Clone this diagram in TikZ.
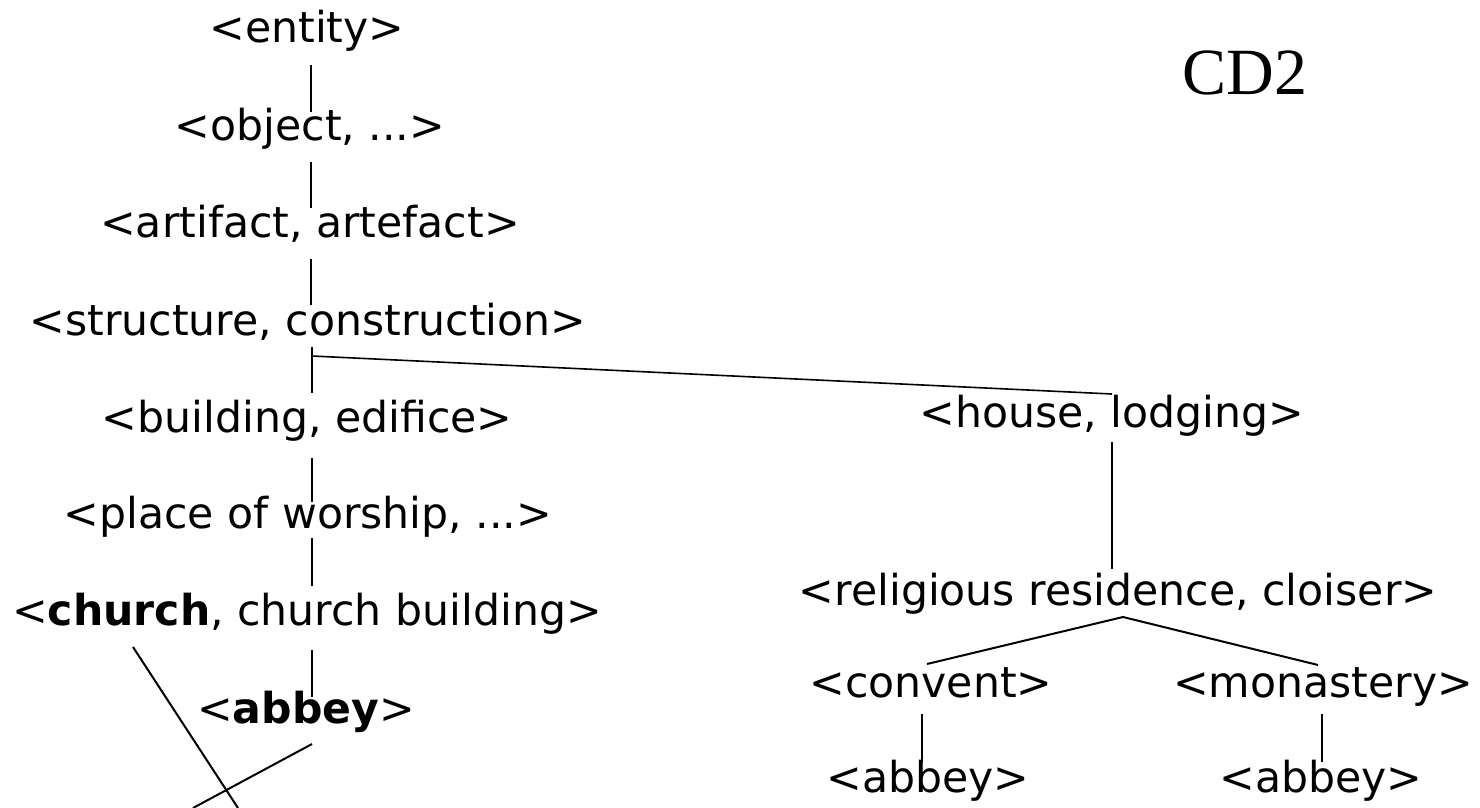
\documentclass[tikz,border=0pt]{standalone}
\usepackage{fontspec}
\setmainfont{DejaVu Sans}
\newfontfamily\titlefont{Liberation Serif}
\usetikzlibrary{calc}
\begin{document}
\begin{tikzpicture}[x=1pt,y=-1pt,
  term/.style={anchor=base,inner sep=0pt,font=\fontsize{42.6}{50}\selectfont},
  link/.style={line width=2pt,line cap=butt}]
\useasboundingbox (0,0) rectangle (1480,808);

% left chain of hypernyms
\node[term] (entity)    at (307,43)  {<entity>};
\node[term] (object)    at (310,140) {<object, ...>};
\node[term] (artifact)  at (310,237) {<artifact, artefact>};
\node[term] (structure) at (308,335) {<structure, construction>};
\node[term] (building)  at (307,432) {<building, edifice>};
\node[term] (worship)   at (308,528) {<place of worship, ...>};
\node[term] (church)    at (307,625) {<\textbf{church}, church building>};
\node[term] (abbeyA)    at (306,723) {<\textbf{abbey}>};

% right branch
\node[term] (house)     at (1112,427) {<house, lodging>};
\node[term] (religious) at (1118,605) {<religious residence, cloiser>};
\node[term] (convent)   at (931,697)  {<convent>};
\node[term] (monastery) at (1323,697) {<monastery>};
\node[term] (abbeyB)    at (928,792)  {<abbey>};
\node[term] (abbeyC)    at (1321,792) {<abbey>};

% title
\node[anchor=base,inner sep=0pt,font=\titlefont\fontsize{66}{70}\selectfont] (title) at (1245,95) {CD2};

% vertical links on the left
\draw[link] ($(entity.base)+(4,22)$)    -- ($(object.base)+(1,-28)$);
\draw[link] ($(object.base)+(1,22)$)    -- ($(artifact.base)+(1,-29)$);
\draw[link] ($(artifact.base)+(1,22)$)  -- ($(structure.base)+(3,-30)$);
\draw[link] ($(structure.base)+(4,12)$) -- ($(building.base)+(5,-39)$);
\draw[link] ($(building.base)+(5,26)$)  -- ($(worship.base)+(4,-26)$);
\draw[link] ($(worship.base)+(4,10)$)   -- ($(church.base)+(5,-39)$);
\draw[link] ($(church.base)+(5,25)$)    -- ($(abbeyA.base)+(6,-26)$);

% link across to the right branch
\draw[link,line width=1.6pt] ($(structure.base)+(4,21)$) -- ($(house.base)+(0,-33)$);
\draw[link] ($(house.base)+(0,15)$) -- ($(religious.base)+(-6,-36)$);

% fork below the religious residence
\coordinate (fork) at ($(religious.base)+(5,12)$);
\draw[link] ($(convent.base)+(-4,-33)$) -- (fork) -- ($(monastery.base)+(-5,-32)$);
\draw[link] ($(convent.base)+(-9,17)$)   -- ($(abbeyB.base)+(-6,-30)$);
\draw[link] ($(monastery.base)+(-1,17)$) -- ($(abbeyC.base)+(1,-30)$);

% crossing strokes running off the bottom edge
\coordinate (churchEnd) at (238,808);
\coordinate (abbeyEnd)  at (193,808);
\draw[link] ($(church.base)+(-174,22)$) -- (churchEnd);
\draw[link] ($(abbeyA.base)+(6,21)$)    -- (abbeyEnd);
\end{tikzpicture}
\end{document}
